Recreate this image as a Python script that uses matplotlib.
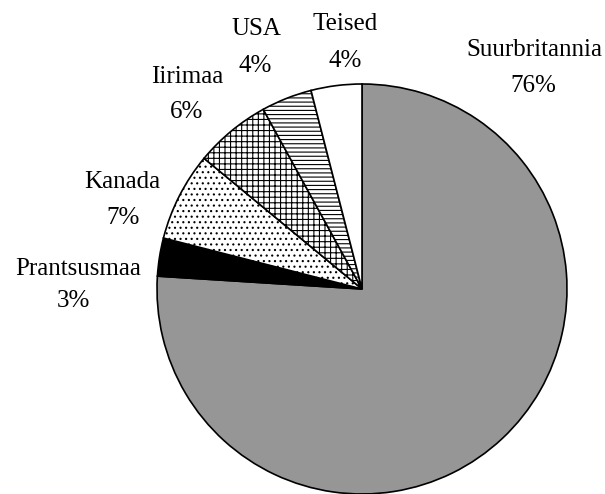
import matplotlib.pyplot as plt
import numpy as np

labels = ["Suurbritannia", "Prantsusmaa", "Kanada", "Iirimaa", "USA", "Teised"]
shares = [76, 3, 7, 6, 4, 4]
pct_text = ["76%", "3%", "7%", "6%", "4%", "4%"]
colors = ["#969696", "black", "white", "white", "white", "white"]
hatches = [None, None, "...", "+++", "----", None]

plt.rcParams['font.family'] = ['Liberation Serif', 'DejaVu Serif']
plt.rcParams['hatch.linewidth'] = 0.8

fig = plt.figure(figsize=(6.05, 4.94), dpi=100)
ax = fig.add_axes([0, 0, 1, 1])

wedges, _ = ax.pie(shares, colors=colors, startangle=90, counterclock=False,
                   center=(362, 205), radius=205, frame=True,
                   wedgeprops=dict(edgecolor='black', linewidth=1.2))
for w, h in zip(wedges, hatches):
    if h:
        w.set_hatch(h)
ax.set_xlim(0, 605)
ax.set_ylim(0, 494)
ax.set_aspect('equal')
ax.axis('off')

# label placement: x centre and baselines (pixels from top) of name / percent
lab_x = [534, 78, 122, 187, 256, 345]
pct_x = [533, 73, 123, 187, 255, 345]
name_base = [56, 275, 188, 83, 35, 30]
pct_base = [92, 307, 224, 118, 72, 67]
for i in range(len(labels)):
    ax.text(lab_x[i], 494 - name_base[i], labels[i], ha='center', va='baseline', fontsize=18)
    ax.text(pct_x[i], 494 - pct_base[i], pct_text[i], ha='center', va='baseline', fontsize=18)

fig.savefig("out.png", dpi=100)
